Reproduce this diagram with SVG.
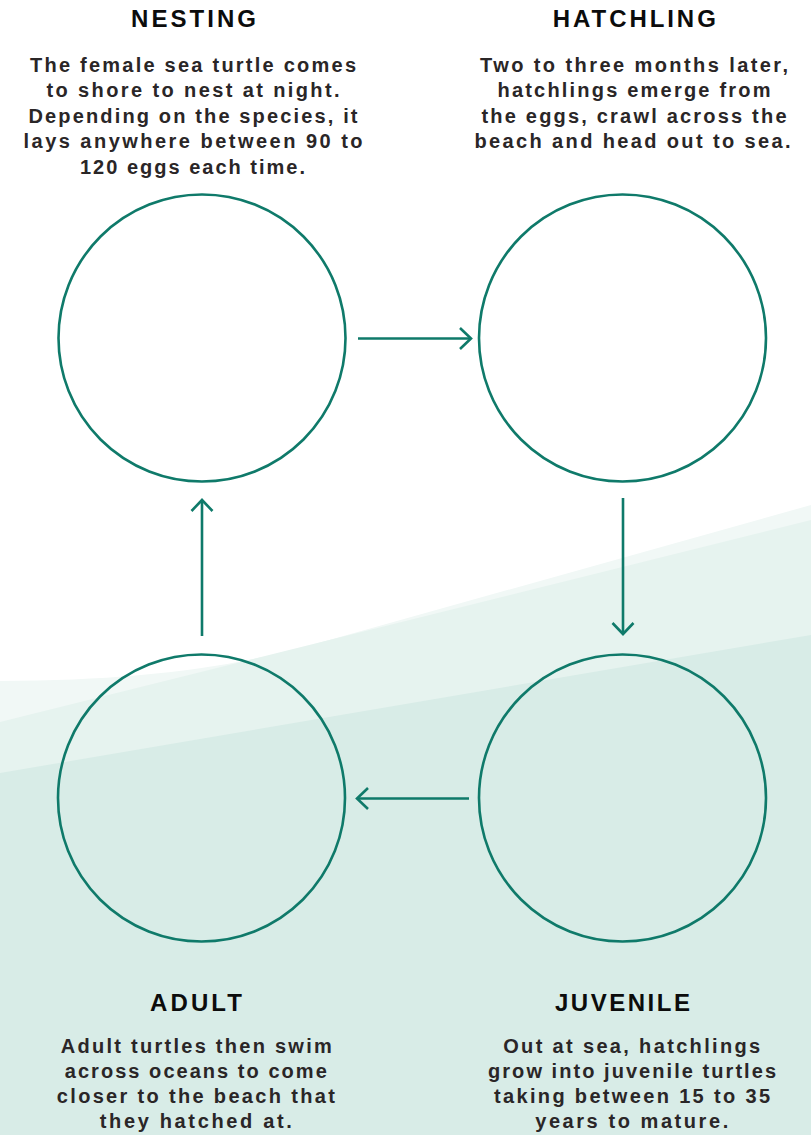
<svg xmlns="http://www.w3.org/2000/svg" width="811" height="1135" viewBox="0 0 811 1135">
  <defs>
    <style>
      .ring { fill: none; stroke: #0f7a6a; stroke-width: 2.6; }
      .conn { fill: none; stroke: #0f7a6a; stroke-width: 2.6; }
      .head { font-family: "Liberation Sans", Arial, sans-serif; font-weight: 700; font-size: 24px; fill: #0c0c0c; text-anchor: middle; }
      .body { font-family: "Liberation Sans", Arial, sans-serif; font-weight: 700; font-size: 20px; fill: #2a2627; text-anchor: middle; }
    </style>
    <marker id="chev" markerUnits="userSpaceOnUse" markerWidth="30" markerHeight="30" viewBox="-15 -15 30 30" refX="0" refY="0" orient="auto">
      <path d="M-11,-10.5 L0,0 L-11,10.5" fill="none" stroke="#0f7a6a" stroke-width="2.6" stroke-linejoin="miter"/>
    </marker>
  </defs>

  <g id="background">
    <rect x="0" y="0" width="811" height="1135" fill="#ffffff"/>
    <path d="M0,681 C120,680 200,672 290,651 L811,505 L811,1135 L0,1135 Z" fill="#f1f8f6"/>
    <path d="M0,722 L811,520 L811,1135 L0,1135 Z" fill="#e6f3ef"/>
    <path d="M0,773 L811,635 L811,1135 L0,1135 Z" fill="#d8ece7"/>
  </g>

  <g id="connectors">
    <line class="conn" x1="358" y1="338.5" x2="471" y2="338.5" marker-end="url(#chev)"/>
    <line class="conn" x1="623" y1="498" x2="623" y2="634" marker-end="url(#chev)"/>
    <line class="conn" x1="469" y1="798.5" x2="357" y2="798.5" marker-end="url(#chev)"/>
    <line class="conn" x1="202" y1="636" x2="202" y2="500" marker-end="url(#chev)"/>
  </g>

  <g id="nesting">
    <circle class="ring" cx="202" cy="338" r="143.5"/>
    <text class="head" x="193.5" y="27.3" textLength="125" lengthAdjust="spacing">NESTING</text>
    <text class="body" x="193" y="71.5" textLength="326" lengthAdjust="spacing">The female sea turtle comes</text>
    <text class="body" x="193" y="97" textLength="293" lengthAdjust="spacing">to shore to nest at night.</text>
    <text class="body" x="193" y="122.5" textLength="329" lengthAdjust="spacing">Depending on the species, it</text>
    <text class="body" x="193" y="148" textLength="339" lengthAdjust="spacing">lays anywhere between 90 to</text>
    <text class="body" x="192.5" y="173.5" textLength="225" lengthAdjust="spacing">120 eggs each time.</text>
  </g>

  <g id="hatchling">
    <circle class="ring" cx="622.5" cy="338" r="143.5"/>
    <text class="head" x="634.3" y="27.3" textLength="163" lengthAdjust="spacing">HATCHLING</text>
    <text class="body" x="634" y="71.5" textLength="308" lengthAdjust="spacing">Two to three months later,</text>
    <text class="body" x="634" y="97" textLength="273" lengthAdjust="spacing">hatchlings emerge from</text>
    <text class="body" x="634" y="122.5" textLength="305" lengthAdjust="spacing">the eggs, crawl across the</text>
    <text class="body" x="632.5" y="148" textLength="316" lengthAdjust="spacing">beach and head out to sea.</text>
  </g>

  <g id="juvenile">
    <circle class="ring" cx="622.5" cy="798" r="143.5"/>
    <text class="head" x="622.5" y="1010.7" textLength="135" lengthAdjust="spacing">JUVENILE</text>
    <text class="body" x="631.7" y="1052.5" textLength="257" lengthAdjust="spacing">Out at sea, hatchlings</text>
    <text class="body" x="632" y="1077.7" textLength="288" lengthAdjust="spacing">grow into juvenile turtles</text>
    <text class="body" x="632" y="1102.9" textLength="276" lengthAdjust="spacing">taking between 15 to 35</text>
    <text class="body" x="631.7" y="1128.1" textLength="193" lengthAdjust="spacing">years to mature.</text>
  </g>

  <g id="adult">
    <circle class="ring" cx="201.5" cy="798" r="143.5"/>
    <text class="head" x="196" y="1010.7" textLength="92" lengthAdjust="spacing">ADULT</text>
    <text class="body" x="196.3" y="1052.5" textLength="271" lengthAdjust="spacing">Adult turtles then swim</text>
    <text class="body" x="195.8" y="1077.7" textLength="262" lengthAdjust="spacing">across oceans to come</text>
    <text class="body" x="195.8" y="1102.9" textLength="278" lengthAdjust="spacing">closer to the beach that</text>
    <text class="body" x="195.8" y="1128.1" textLength="192" lengthAdjust="spacing">they hatched at.</text>
  </g>
</svg>
